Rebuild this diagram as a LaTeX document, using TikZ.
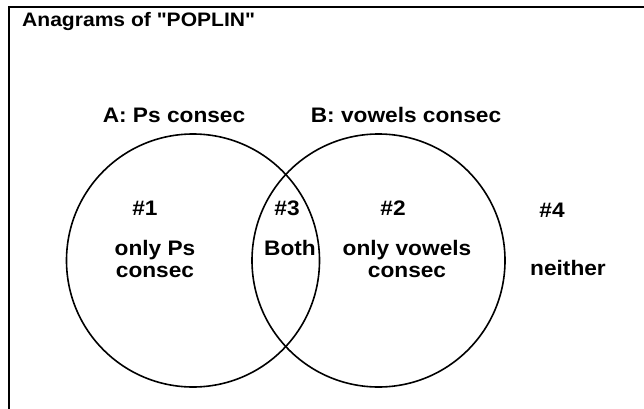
\documentclass[tikz,border=0pt]{standalone}
\usepackage{fontspec}
\setmainfont{Liberation Sans}
\newfontfamily\widesans[FakeStretch=1.08]{Liberation Sans}
\begin{document}
\begin{tikzpicture}[x=1pt,y=1pt,
  lbl/.style={font=\widesans\fontsize{21}{22}\selectfont\bfseries, inner sep=0pt, align=center},
  ttl/.style={font=\widesans\fontsize{19.5}{20}\selectfont\bfseries, inner sep=0pt},
  setcircle/.style={draw, line width=1.6pt, circle}]
\useasboundingbox (0,0) rectangle (644,408);
\clip (0,0) rectangle (644,408);
% frame, open to the right and bottom
\draw[line width=1.6pt] (9,-20) rectangle (680,401);
\node[ttl, anchor=west] (title) at (22,386) {Anagrams of \char34 POPLIN\char34};
% the two sets
\node[setcircle, minimum size=253pt] (A) at (193,147.5) {};
\node[setcircle, minimum size=253pt] (B) at (378.5,147.5) {};
\node[lbl] (Alab) at (174,293) {A: Ps consec};
\node[lbl] (Blab) at (406,293) {B: vowels consec};
% regions
\node[lbl] (n1) at (145,200) {\#1};
\node[lbl] (n3) at (287,200) {\#3};
\node[lbl] (n2) at (393,200) {\#2};
\node[lbl] (n4) at (552,198) {\#4};
\node[lbl] (r1) at (155,149) {only Ps\\consec};
\node[lbl] (r3) at (290,160) {Both};
\node[lbl] (r2) at (407,149) {only vowels\\consec};
\node[lbl] (r4) at (568,140) {neither};
\end{tikzpicture}
\end{document}
